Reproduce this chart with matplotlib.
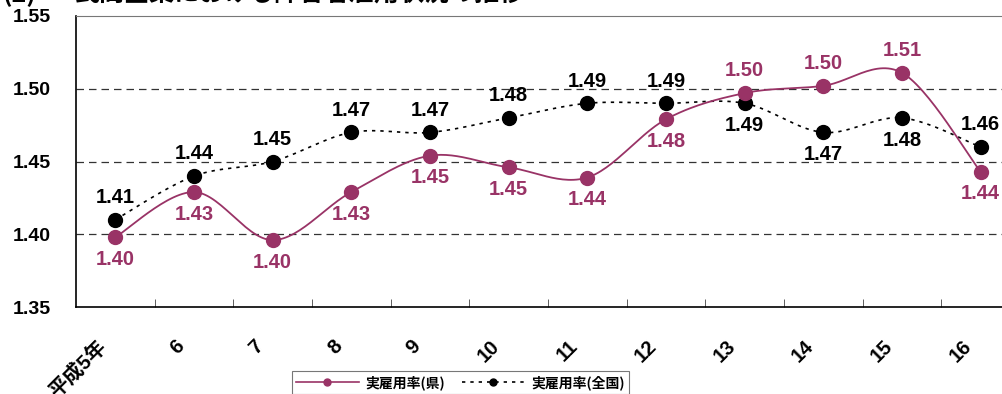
import numpy as np
import matplotlib
matplotlib.use('Agg')
import matplotlib.pyplot as plt
import matplotlib.transforms as mtransforms
from matplotlib.lines import Line2D

plt.rcParams['font.family'] = ['Liberation Sans', 'Noto Sans CJK JP']
plt.rcParams['font.weight'] = 'bold'

# datos
anios = ['平成5年', '6', '7', '8', '9', '10', '11', '12', '13', '14', '15', '16']
ken = [1.398, 1.429, 1.396, 1.429, 1.454, 1.446, 1.439, 1.479, 1.497, 1.502, 1.511, 1.443]
zenkoku = [1.41, 1.44, 1.45, 1.47, 1.47, 1.48, 1.49, 1.49, 1.49, 1.47, 1.48, 1.46]
# posicion de cada etiqueta: 1 arriba, -1 abajo
pos_ken = [-1, -1, -1, -1, -1, -1, -1, -1, 1, 1, 1, -1]
pos_zen = [1, 1, 1, 1, 1, 1, 1, 1, -1, -1, -1, 1]

c_ken = '#993366'


def suavizar(x, y, n=30):
    # curva tipo Excel (Catmull-Rom / Bezier)
    x = np.asarray(x, float)
    y = np.asarray(y, float)
    px = np.concatenate([[x[0]], x, [x[-1]]])
    py = np.concatenate([[y[0]], y, [y[-1]]])
    xs, ys = [], []
    t = np.linspace(0, 1, n)
    for i in range(1, len(px) - 2):
        p0 = np.array([px[i], py[i]])
        p3 = np.array([px[i + 1], py[i + 1]])
        p1 = p0 + (np.array([px[i + 1], py[i + 1]]) - np.array([px[i - 1], py[i - 1]])) / 6
        p2 = p3 - (np.array([px[i + 2], py[i + 2]]) - np.array([px[i], py[i]])) / 6
        b = ((1 - t) ** 3)[:, None] * p0 + (3 * (1 - t) ** 2 * t)[:, None] * p1 \
            + (3 * (1 - t) * t ** 2)[:, None] * p2 + (t ** 3)[:, None] * p3
        xs.extend(b[:, 0])
        ys.extend(b[:, 1])
    return np.array(xs), np.array(ys)


fig = plt.figure(figsize=(10.03, 3.94), dpi=100)
ax = fig.add_axes([0.0758, 1 - 307 / 394, 0.941, 291 / 394])

x = np.arange(len(anios))

for yv in [1.40, 1.45, 1.50]:
    ax.axhline(yv, color='#333333', lw=0.9, ls=(0, (6, 4)), zorder=1)

sx, sy = suavizar(x, zenkoku)
ax.plot(sx, sy, color='black', lw=1.2, ls=(0, (2, 3)), zorder=2)
ax.plot(x, zenkoku, 'o', color='black', ms=10, zorder=3)

sx, sy = suavizar(x, ken)
ax.plot(sx, sy, color=c_ken, lw=1.3, zorder=4)
ax.plot(x, ken, 'o', color=c_ken, ms=10, zorder=5)

for i in range(len(x)):
    ax.annotate('%.2f' % ken[i], (x[i], ken[i]), xytext=(0, 16 * pos_ken[i]),
                textcoords='offset points', ha='center', va='center',
                color=c_ken, fontsize=14.5, fontweight='bold')
    ax.annotate('%.2f' % zenkoku[i], (x[i], zenkoku[i]), xytext=(0, 16 * pos_zen[i]),
                textcoords='offset points', ha='center', va='center',
                color='black', fontsize=14.5, fontweight='bold')

ax.set_xlim(-0.5, len(x) - 0.5)
ax.set_ylim(1.35, 1.55)
ax.set_yticks([1.35, 1.40, 1.45, 1.50, 1.55])
ax.set_yticklabels(['%.2f' % v for v in [1.35, 1.40, 1.45, 1.50, 1.55]],
                   fontsize=14, fontweight='bold')
ax.tick_params(axis='y', length=0, pad=18)

ax.set_xticks(x)
ax.set_xticklabels(anios, fontsize=14.5, fontweight='bold', rotation=45,
                   ha='right', rotation_mode='anchor')
ax.tick_params(axis='x', which='major', length=0, pad=21)
desplaza = mtransforms.ScaledTranslation(-19 / 100, 0, fig.dpi_scale_trans)
for lab in ax.get_xticklabels():
    lab.set_transform(lab.get_transform() + desplaza)
ax.set_xticks(np.arange(0.5, len(x) - 0.5), minor=True)
ax.tick_params(axis='x', which='minor', direction='in', length=6, color='#444444')

ax.spines['right'].set_visible(False)
ax.spines['top'].set_color('#777777')
ax.spines['left'].set_linewidth(1.2)
ax.spines['bottom'].set_linewidth(1.2)

fuente_t = ['Noto Sans CJK JP', 'DejaVu Sans']
fig.text(0.003, 0.983, '(2)', fontsize=18, fontweight='bold', va='bottom',
         ha='left', family=fuente_t)
fig.text(75 / 1003, 0.983, '民間企業における障害者雇用状況の推移', fontsize=18,
         fontweight='bold', va='bottom', ha='left', family=fuente_t)

h1 = Line2D([], [], color=c_ken, lw=1.2, marker='o', ms=5)
h2 = Line2D([], [], color='black', lw=1.2, ls=(0, (2, 3)), marker='o', ms=5)
leg = fig.legend([h1, h2], ['実雇用率(県)', '実雇用率(全国)'], ncol=2,
                 loc='upper left', bbox_to_anchor=(292 / 1003, 1 - 371 / 394),
                 frameon=True, fancybox=False, edgecolor='#555555',
                 handlelength=4.5, handletextpad=0.5, columnspacing=1.2,
                 borderpad=0.3, borderaxespad=0,
                 prop={'family': ['Noto Sans CJK JP'], 'weight': 'bold', 'size': 10})
leg.get_frame().set_linewidth(0.8)

plt.savefig('out.png', dpi=100)
